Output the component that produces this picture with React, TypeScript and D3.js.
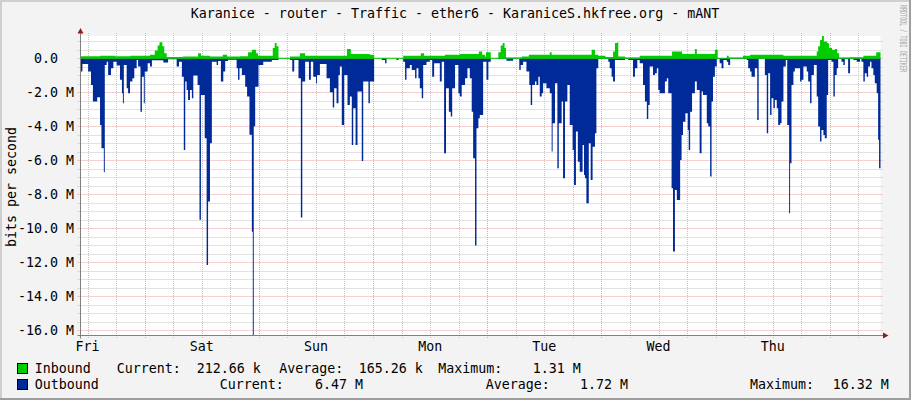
import React, { useEffect } from "react";
import * as d3 from "d3";

const TITLE = "Karanice - router - Traffic - ether6 - KaraniceS.hkfree.org - mANT";
const START = Date.UTC(2020, 0, 3, 10, 38); // a Friday, 10:38
const SPAN_HOURS = 168;

// [hours since start, Mbit/s]
const outbound: [number, number][] = [
  [0.0,0.78],[0.3,0.33],[1.5,0.78],[2.1,1.57],[2.5,2.55],[3.4,2.3],[4.0,3.92],[4.3,5.29],[4.8,6.71],[5.0,0.39],
  [5.4,0.2],[5.7,0.98],[6.3,0.59],[6.8,0.2],[7.5,0.43],[8.2,1.27],[8.6,2.06],[8.8,2.65],[9.0,0.39],[9.6,1.76],
  [9.9,2.06],[10.3,1.37],[10.8,1.18],[11.2,0.59],[11.7,0.1],[12.0,0.49],[12.5,3.14],[12.8,1.08],[13.2,2.65],[13.4,0.78],
  [14.0,0.29],[14.5,0.49],[14.9,0.12],[17.3,0.25],[18.3,0.06],[20.1,0.49],[20.6,0.2],[21.2,1.08],[21.6,5.39],[21.9,1.37],
  [22.2,1.86],[22.5,2.45],[22.9,1.86],[23.3,2.35],[23.6,1.02],[24.5,1.57],[24.9,9.5],[25.2,2.16],[26.0,4.7],[26.4,12.16],
  [26.7,8.43],[27.1,5.0],[27.5,0.2],[28.5,0.39],[28.8,0.16],[29.4,1.37],[29.9,0.78],[30.3,0.16],[30.9,0.08],[32.7,0.59],
  [33.0,1.27],[33.3,0.59],[33.8,0.98],[34.5,1.67],[34.9,2.25],[35.4,4.5],[35.9,10.2],[36.1,16.32],[36.3,4.0],[36.6,1.67],
  [37.3,0.39],[38.3,0.2],[40.1,0.1],[41.5,0.02],[43.9,0.1],[44.4,0.78],[44.8,0.1],[45.7,1.18],[46.2,9.37],[46.5,1.37],
  [47.1,0.2],[47.9,1.27],[48.3,0.2],[48.8,1.08],[49.4,1.47],[49.6,0.98],[50.2,0.33],[51.6,1.18],[52.3,2.0],[52.9,2.9],
  [53.2,1.76],[53.7,2.65],[54.1,0.98],[54.4,0.49],[54.8,3.92],[55.3,0.98],[56.0,2.75],[56.5,2.25],[56.9,5.1],[57.2,2.94],
  [57.7,5.1],[58.1,1.96],[59.0,6.04],[59.3,1.37],[60.4,2.65],[60.7,1.37],[61.6,0],[63.2,0.1],[63.9,0.29],[64.2,0],
  [66.3,0.1],[66.7,0],[67.7,0.2],[68.1,1.27],[68.4,0.59],[69.1,0.39],[69.5,0.69],[70.2,1.18],[70.5,0.59],[70.9,1.18],
  [71.2,1.76],[71.6,2.35],[71.9,0.39],[72.6,0.2],[73.3,0.1],[73.8,1.08],[74.2,0.29],[75.4,1.37],[75.8,0.2],[76.3,5.59],
  [76.7,1.76],[77.3,3.14],[77.7,3.43],[78.0,1.76],[78.6,0.39],[79.3,2.06],[79.6,2.25],[80.0,1.57],[80.7,1.18],[81.2,0.59],
  [81.7,1.18],[82.1,3.14],[82.4,5.88],[82.8,11.02],[83.1,4.12],[83.5,3.53],[83.8,3.33],[84.5,0.2],[85.2,1.27],[85.6,0.2],
  [86.1,0],[87.3,0.04],[89.4,0.14],[90.8,0.04],[91.5,0],[92.1,0.69],[92.4,0.39],[92.9,0.2],[93.6,0.78],[94.2,1.57],
  [94.5,2.75],[94.8,1.57],[95.4,1.37],[95.7,1.57],[96.1,1.08],[96.4,2.25],[96.8,2.06],[97.1,1.47],[97.8,1.76],[98.5,2.06],
  [98.9,5.49],[99.1,3.82],[99.6,1.47],[100.1,6.47],[100.4,3.82],[101.0,2.55],[101.3,7.06],[101.7,2.55],[102.2,1.57],[102.7,3.92],
  [103.3,5.39],[103.6,7.45],[104.0,4.31],[104.4,6.08],[104.8,6.67],[105.4,5.1],[105.7,6.86],[105.9,7.06],[106.2,8.53],[106.7,5.0],
  [107.1,7.16],[107.5,5.2],[108.0,4.41],[108.3,0.59],[108.7,0.04],[110.8,0.2],[111.1,0.59],[111.5,1.08],[111.8,1.37],[112.2,0.1],
  [114.3,0.04],[115.0,0.1],[116.0,1.08],[116.4,0.59],[116.9,0.1],[117.4,0.29],[118.1,1.57],[118.5,2.55],[118.9,3.57],[119.2,2.75],
  [119.5,0.49],[120.2,0.98],[120.6,0.88],[121.0,0.59],[121.3,1.86],[121.6,2.06],[122.7,1.37],[123.1,1.18],[123.4,2.06],[124.1,7.65],
  [124.4,11.37],[124.8,7.75],[125.2,8.33],[125.9,5.98],[126.2,4.51],[126.5,3.73],[127.0,3.24],[127.5,4.22],[127.7,5.39],[128.0,3.14],
  [128.4,2.06],[129.0,1.37],[129.4,1.86],[130.0,5.59],[130.4,1.96],[130.7,2.16],[131.5,3.82],[131.8,4.02],[132.2,6.96],[132.5,2.55],
  [132.8,1.08],[133.2,0.49],[133.6,0.04],[134.2,0.29],[134.6,0.59],[135.0,0.1],[135.7,0.2],[136.0,0.39],[136.4,0.04],[139.9,0.1],
  [140.2,0.59],[140.6,0.78],[140.9,1.08],[141.6,0.59],[142.1,3.63],[142.4,0.04],[143.7,0.98],[144.1,4.41],[144.4,0.88],[144.8,3.33],
  [145.1,2.35],[145.5,2.94],[145.8,2.45],[146.2,2.94],[146.5,3.92],[146.9,3.82],[147.2,2.55],[147.6,0.49],[148.1,0.1],[148.4,3.92],
  [148.8,9.12],[149.0,6.18],[149.3,1.57],[149.7,0.78],[150.0,0.59],[151.1,1.37],[151.4,1.27],[151.8,0.49],[152.5,0.78],[152.8,1.37],
  [153.2,2.65],[153.5,0.98],[154.0,0.39],[154.6,2.25],[154.9,4.02],[155.3,4.9],[155.6,4.22],[156.0,4.51],[156.3,4.71],[156.7,2.16],
  [157.0,0.1],[157.7,0.2],[158.1,2.25],[158.4,0.98],[158.8,0.59],[159.1,0.04],[159.8,0.2],[160.2,0.39],[160.5,0.04],[161.2,0.88],
  [161.6,0.04],[162.3,0.1],[163.0,0.2],[163.7,0.04],[164.0,0.2],[164.4,1.37],[164.7,0.88],[165.1,1.08],[165.4,0.49],[165.8,0.2],
  [166.1,0.59],[166.5,0.98],[166.8,1.47],[167.2,2.06],[167.5,4.8],[167.7,6.47],
];

const inbound: [number, number][] = [
  [0.0,0.12],[4.0,0.15],[7.1,0.12],[10.3,0.15],[14.5,0.2],[15.5,0.45],[16.1,0.75],[16.5,0.94],[17.1,0.7],[17.5,0.3],
  [18.0,0.08],[21.4,0.1],[24.6,0.3],[25.2,0.15],[27.1,0.1],[29.8,0.2],[30.7,0.1],[33.4,0.12],[35.1,0.35],[35.9,0.5],
  [36.8,0.3],[37.2,0.15],[40.3,0.6],[40.7,0.9],[41.1,0.7],[41.5,0.02],[43.9,0.1],[46.0,0.3],[47.1,0.15],[55.9,0.55],
  [56.7,0.25],[60.7,0.2],[61.6,0.02],[67.7,0.15],[71.4,0.3],[72.1,0.15],[76.5,0.2],[79.6,0.25],[83.6,0.4],[84.3,0.2],
  [84.9,0.1],[85.1,0.35],[86.1,0.02],[87.7,0.35],[88.2,0.75],[88.6,0.9],[89.0,0.6],[89.3,0.05],[92.6,0.1],[94.1,0.2],
  [98.5,0.35],[98.9,0.2],[107.3,0.5],[108.0,0.2],[108.7,0.15],[110.2,0.08],[111.8,0.4],[112.2,0.9],[112.7,0.94],[112.9,0.1],
  [114.3,0.04],[117.4,0.15],[124.2,0.4],[126.3,0.25],[129.0,0.55],[129.4,0.25],[133.2,0.5],[133.8,0.0],[135.7,0.15],[136.1,0.04],
  [139.1,0.15],[140.6,0.2],[147.6,0.15],[154.6,0.4],[154.9,0.7],[155.3,1.08],[155.7,1.31],[156.1,0.98],[156.8,0.88],[157.2,0.6],
  [157.8,0.5],[158.4,0.55],[158.9,0.3],[159.3,0.04],[161.6,0.06],[164.4,0.15],[167.1,0.35],
];

const yMajorTicks = [0, -2, -4, -6, -8, -10, -12, -14, -16];
const yMinorStep = 0.5;
const inboundStats = ["212.66 k", "165.26 k", "1.31 M"];
const outboundStats = ["6.47 M", "1.72 M", "16.32 M"];

const W = 911;
const H = 400;
const FONT = "'DejaVu Sans Mono', monospace";
const GREEN = "#00CC00";
const BLUE = "#002A97";
const MINOR = "#C4C4C4";
const MAJOR = "#EBA3A3";
const ARROW = "#8E1E1E";

const HOUR = 3600 * 1000;

export default function App() {
  useEffect(() => {
    document.body.style.margin = "0";
  }, []);

  const end = START + SPAN_HOURS * HOUR;
  const x = d3.scaleUtc().domain([new Date(START), new Date(end)]).range([81, 880.5]);
  const y = d3.scaleLinear().domain([-16.32, 1.31]).range([335.7, 36]);
  const left = 81, right = 880.5, top = 36, bottom = 335.7;

  const toPts = (arr: [number, number][]) => {
    const pts = arr.map(([h, v]) => ({ t: new Date(START + h * HOUR), v }));
    pts.push({ t: new Date(end), v: arr[arr.length - 1][1] });
    return pts;
  };

  const outArea = d3.area<{ t: Date; v: number }>()
    .x((d) => x(d.t))
    .y0(y(0))
    .y1((d) => y(-d.v))
    .curve(d3.curveStepAfter);
  const inArea = d3.area<{ t: Date; v: number }>()
    .x((d) => x(d.t))
    .y0(y(0))
    .y1((d) => y(d.v))
    .curve(d3.curveStepAfter);

  const minorX = d3.utcHour.every(6)!.range(new Date(START), new Date(end));
  const majorX = d3.utcDay.range(new Date(START), new Date(end));
  const labelX = d3.utcDay
    .range(new Date(START - 24 * HOUR), new Date(end))
    .map((d) => new Date(+d + 12 * HOUR))
    .filter((d) => +d >= START && +d <= end);
  const fmtDay = d3.utcFormat("%a");

  const minorY = d3.range(-16, 1.0001, yMinorStep).filter((v) => !yMajorTicks.includes(v));

  const yLabel = (v: number) => (v === 0 ? "0.0\u00a0\u00a0" : `${v.toFixed(1)} M`);

  const legendFs = 13.3;

  return (
    <svg width={W} height={H} style={{ display: "block" }} fontFamily={FONT}>
      <rect x={0} y={0} width={W} height={H} fill="#F3F3F3" />
      {/* frame */}
      <rect x={0} y={0} width={W} height={2} fill="#CFCFCF" />
      <rect x={0} y={0} width={2} height={H} fill="#CFCFCF" />
      <rect x={0} y={H - 2} width={W} height={2} fill="#9E9E9E" />
      <rect x={W - 2} y={0} width={2} height={H} fill="#9E9E9E" />

      <text x={455} y={18} textAnchor="middle" fontSize={13.3} fill="#000">{TITLE}</text>

      <text
        transform="translate(899.5,5) rotate(90)"
        fontSize={8}
        fill="#A8A8A8"
        textLength={67}
        lengthAdjust="spacingAndGlyphs"
      >RRDTOOL / TOBI OETIKER</text>

      <rect x={left} y={top} width={right - left} height={bottom - top} fill="#FFFFFF" />

      {/* minor grid */}
      {minorY.map((v) => (
        <line key={"my" + v} x1={77.5} x2={883} y1={Math.round(y(v)) + 0.5} y2={Math.round(y(v)) + 0.5}
          stroke={MINOR} strokeDasharray="1,1" />
      ))}
      {minorX.map((d) => (
        <line key={"mx" + +d} x1={Math.round(x(d)) + 0.5} x2={Math.round(x(d)) + 0.5} y1={33} y2={338.5}
          stroke={MINOR} strokeDasharray="1,1" />
      ))}
      {/* major grid */}
      {yMajorTicks.map((v) => (
        <line key={"My" + v} x1={77.5} x2={883} y1={Math.round(y(v)) + 0.5} y2={Math.round(y(v)) + 0.5}
          stroke={MAJOR} strokeDasharray="1,1" />
      ))}
      {majorX.map((d) => (
        <line key={"Mx" + +d} x1={Math.round(x(d)) + 0.5} x2={Math.round(x(d)) + 0.5} y1={33} y2={338.5}
          stroke={MAJOR} strokeDasharray="1,1" />
      ))}

      <path d={outArea(toPts(outbound)) || ""} fill={BLUE} />
      <path d={inArea(toPts(inbound)) || ""} fill={GREEN} />
      <line x1={left} x2={right} y1={y(0)} y2={y(0)} stroke={GREEN} strokeWidth={1.2} />

      {/* axes */}
      <line x1={80.5} x2={80.5} y1={31} y2={338.5} stroke="#808080" />
      <line x1={77.5} x2={884} y1={335.5} y2={335.5} stroke="#808080" />
      <polygon points="77.5,33.5 83.5,33.5 80.5,28" fill={ARROW} />
      <polygon points="883,332.5 883,338.5 888.5,335.5" fill={ARROW} />

      {/* y labels */}
      {yMajorTicks.map((v) => (
        <text key={"yl" + v} x={74} y={y(v) + 4.5} textAnchor="end" fontSize={13.3} fill="#000">
          {yLabel(v)}
        </text>
      ))}
      <text transform="translate(16,187) rotate(-90)" textAnchor="middle" fontSize={13.3} fill="#000">
        bits per second
      </text>

      {/* x labels */}
      {labelX.map((d) => (
        <text key={"xl" + +d} x={x(d)} y={351} textAnchor="middle" fontSize={13.3} fill="#000">
          {fmtDay(d)}
        </text>
      ))}

      {/* legend */}
      <rect x={17.5} y={363.5} width={10} height={10} fill={GREEN} stroke="#000" />
      <rect x={17.5} y={379.5} width={10} height={10} fill={BLUE} stroke="#000" />
      <g fontSize={legendFs} fill="#000">
        <text x={34.7} y={373}>Inbound</text>
        <text x={116.7} y={373}>Current:</text>
        <text x={196.7} y={373}>{inboundStats[0]}</text>
        <text x={279.3} y={373}>Average:</text>
        <text x={358.7} y={373}>{inboundStats[1]}</text>
        <text x={438.3} y={373}>Maximum:</text>
        <text x={532.7} y={373}>{inboundStats[2]}</text>

        <text x={34.7} y={389}>Outbound</text>
        <text x={219.7} y={389}>Current:</text>
        <text x={315} y={389}>{outboundStats[0]}</text>
        <text x={485.7} y={389}>Average:</text>
        <text x={580} y={389}>{outboundStats[1]}</text>
        <text x={750} y={389}>Maximum:</text>
        <text x={832.7} y={389}>{outboundStats[2]}</text>
      </g>
    </svg>
  );
}
